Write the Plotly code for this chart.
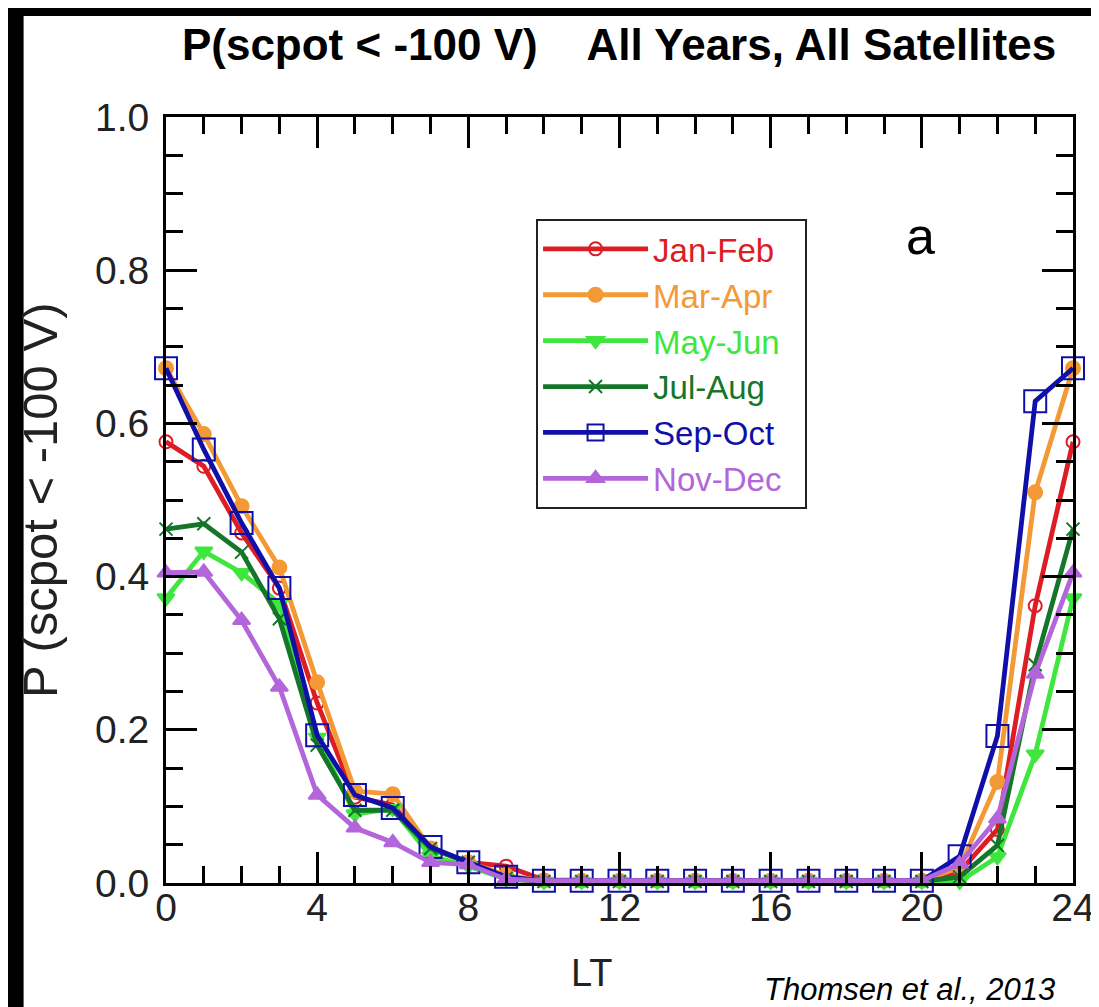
import plotly.graph_objects as go

LT = list(range(25))

jan_feb = [0.576, 0.544, 0.457, 0.385, 0.235, 0.112, 0.102, 0.045, 0.027, 0.022, 0.004,
           0.003, 0.003, 0.003, 0.003, 0.003, 0.003, 0.003, 0.003, 0.003, 0.003,
           0.015, 0.070, 0.362, 0.576]
mar_apr = [0.672, 0.586, 0.492, 0.412, 0.262, 0.120, 0.116, 0.045, 0.027, 0.010, 0.003,
           0.003, 0.003, 0.003, 0.003, 0.003, 0.003, 0.003, 0.003, 0.003, 0.003,
           0.020, 0.132, 0.510, 0.672]
may_jun = [0.372, 0.433, 0.405, 0.365, 0.190, 0.090, 0.097, 0.035, 0.022, 0.005, 0.002,
           0.002, 0.002, 0.002, 0.002, 0.002, 0.002, 0.002, 0.002, 0.002, 0.002,
           0.002, 0.034, 0.168, 0.372]
jul_aug = [0.462, 0.469, 0.432, 0.345, 0.180, 0.095, 0.095, 0.045, 0.027, 0.006, 0.002,
           0.002, 0.002, 0.002, 0.002, 0.002, 0.002, 0.002, 0.002, 0.002, 0.002,
           0.008, 0.049, 0.285, 0.462]
sep_oct = [0.672, 0.566, 0.470, 0.385, 0.193, 0.115, 0.098, 0.047, 0.027, 0.008, 0.003,
           0.003, 0.003, 0.003, 0.003, 0.003, 0.003, 0.003, 0.003, 0.003, 0.003,
           0.035, 0.192, 0.629, 0.672]
nov_dec = [0.405, 0.406, 0.343, 0.256, 0.115, 0.072, 0.053, 0.027, 0.024, 0.005, 0.003,
           0.003, 0.003, 0.003, 0.003, 0.003, 0.003, 0.003, 0.003, 0.003, 0.003,
           0.025, 0.084, 0.273, 0.405]

series_names = ["Jan-Feb", "Mar-Apr", "May-Jun", "Jul-Aug", "Sep-Oct", "Nov-Dec"]
series_values = [jan_feb, mar_apr, may_jun, jul_aug, sep_oct, nov_dec]
colors = ["#dd1c24", "#f39a36", "#3ee63e", "#15762a", "#1010a8", "#b366d9"]
symbols = ["circle-open", "circle", "triangle-down", "x-thin-open", "square-open", "triangle-up"]
msizes = [13, 14, 15, 13, 22, 15]

x_ticks = [0, 4, 8, 12, 16, 20, 24]
y_ticks = [0.0, 0.2, 0.4, 0.6, 0.8, 1.0]

FONT = "Liberation Sans, Arial, Helvetica, sans-serif"
NB = "\u00a0"

fig = go.Figure()
for name, vals, col, sym, ms in zip(series_names, series_values, colors, symbols, msizes):
    fig.add_trace(go.Scatter(
        x=LT, y=vals, mode="lines+markers",
        name=f"<span style='color:{col}'>{name}</span>" + NB * 2,
        line=dict(color=col, width=4.8),
        marker=dict(symbol=sym, size=ms, color=col,
                    line=dict(color=col, width=2)),
        cliponaxis=False,
    ))

axis_common = dict(
    showline=True, linewidth=3, linecolor="black", mirror="allticks",
    ticks="inside", ticklen=31, tickwidth=3, tickcolor="black",
    showgrid=False, zeroline=False,
    tickfont=dict(family=FONT, size=39, color="#222"),
)

fig.update_xaxes(
    range=[0, 24], tickvals=x_ticks, ticktext=[str(v) for v in x_ticks],
    minor=dict(ticks="inside", ticklen=17, tickwidth=3, tickcolor="black", dtick=1),
    ticklabelstandoff=-12, ticklabeloverflow="allow",
    **axis_common,
)
fig.update_yaxes(
    range=[0, 1], tickvals=y_ticks, ticktext=[f"{v:.1f}" for v in y_ticks],
    minor=dict(ticks="inside", ticklen=17, tickwidth=3, tickcolor="black", dtick=0.05),
    ticklabelstandoff=6,
    **axis_common,
)

fig.update_layout(
    width=1099, height=1007,
    margin=dict(l=158, r=21, t=109, b=132),
    paper_bgcolor="white", plot_bgcolor="white",
    title=dict(
        text="<b>P(scpot &lt; -100 V)" + NB * 4 + "All Years, All Satellites</b>",
        x=0.556, xanchor="center", y=0.964, yanchor="middle",
        font=dict(family=FONT, size=44, color="black"),
    ),
    legend=dict(
        x=0.408, y=0.867, xanchor="left", yanchor="top",
        bgcolor="white", bordercolor="#222", borderwidth=2,
        font=dict(family=FONT, size=33),
        tracegroupgap=0, itemwidth=105,
    ),
    showlegend=True,
)

# axis titles
fig.add_annotation(text="LT", xref="paper", yref="paper", x=0.47, y=-0.117,
                   xanchor="center", yanchor="middle", showarrow=False,
                   font=dict(family=FONT, size=38, color="#222"))
fig.add_annotation(text="P (scpot &lt; -100 V)", xref="paper", yref="paper",
                   x=-0.139, y=0.5, xanchor="center", yanchor="middle", textangle=-90,
                   showarrow=False, font=dict(family=FONT, size=49, color="#222"))

fig.add_annotation(text="a", xref="paper", yref="paper", x=0.85, y=0.885,
                   showarrow=False, font=dict(family=FONT, size=52, color="black"))
fig.add_annotation(text="<i>Thomsen et al., 2013</i>", xref="paper", yref="paper",
                   x=0.982, y=-0.139, xanchor="right", yanchor="middle",
                   showarrow=False, font=dict(family=FONT, size=31, color="black"))

# black borders of the original picture
fig.add_shape(type="rect", xref="paper", yref="paper",
              x0=-0.18, x1=-0.157, y0=-0.2, y1=1.2,
              fillcolor="black", line=dict(width=0), layer="above")
fig.add_shape(type="rect", xref="paper", yref="paper",
              x0=-0.18, x1=1.05, y0=1.132, y1=1.2,
              fillcolor="black", line=dict(width=0), layer="above")

fig.write_html("out.html")
